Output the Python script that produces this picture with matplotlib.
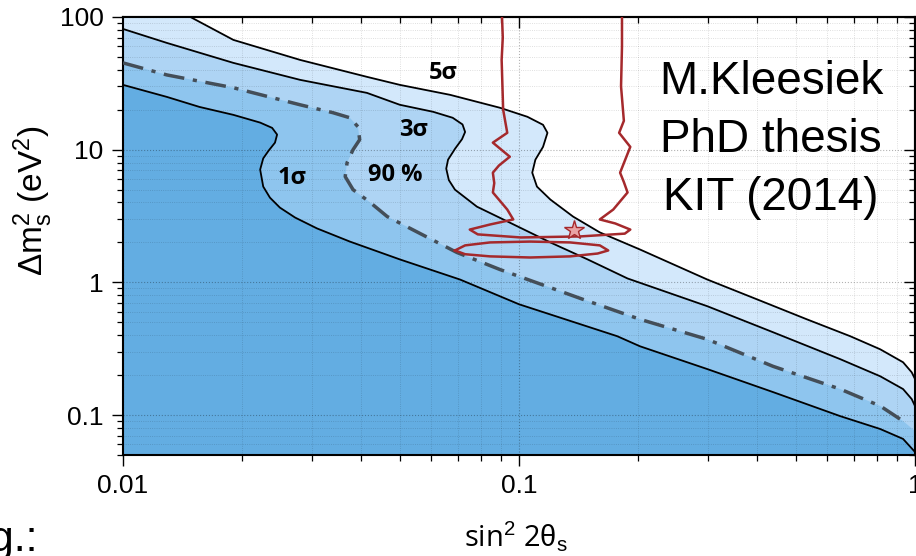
import matplotlib
matplotlib.use('Agg')
from matplotlib import pyplot as plt
from matplotlib.ticker import LogLocator, FormatStrFormatter, NullFormatter

plt.rcParams['mathtext.fontset'] = 'custom'
plt.rcParams['mathtext.rm'] = 'Liberation Sans'
plt.rcParams['mathtext.it'] = 'Liberation Sans:italic'

# contour curves: (sin^2 2theta, dm^2 in eV^2)
sig5_x = [0.0148, 0.0190, 0.0280, 0.0413, 0.0500, 0.0670, 0.0895, 0.105, 0.115, 0.118, 0.115,
          0.110, 0.108, 0.111, 0.120, 0.137, 0.160, 0.202, 0.299, 0.399, 0.533, 0.686, 0.817,
          0.933, 0.981, 1.0]
sig5_y = [100, 67.2, 47.5, 35.4, 30.8, 25.9, 20.7, 17.7, 15.4, 13.4, 10.5,
          8.41, 6.71, 5.27, 4.21, 3.13, 2.38, 1.77, 1.05, 0.745, 0.527, 0.393, 0.313,
          0.250, 0.210, 0.187]

sig3_x = [0.01, 0.0129, 0.0190, 0.0280, 0.0413, 0.0500, 0.0607, 0.0680, 0.0720, 0.0731, 0.0718,
          0.0690, 0.0662, 0.0655, 0.0665, 0.0689, 0.0783, 0.0948, 0.120, 0.149, 0.188, 0.299,
          0.438, 0.647, 0.817, 0.933, 0.981, 1.0]
sig3_y = [81.3, 63.8, 45.1, 33.6, 26.8, 21.8, 19.3, 17.4, 15.5, 13.6, 12.0,
          10.2, 8.41, 7.2, 5.9, 5.00, 3.72, 2.82, 2.00, 1.49, 1.07, 0.661,
          0.421, 0.264, 0.196, 0.157, 0.132, 0.117]

cl90_x = [0.01, 0.0129, 0.0190, 0.0280, 0.0339, 0.0374, 0.0392, 0.0396, 0.0381, 0.0368, 0.0364,
          0.0381, 0.0421, 0.0465, 0.0697, 0.0895, 0.145, 0.202, 0.299, 0.438, 0.647, 0.817,
          0.933, 1.0]
cl90_y = [45.1, 36.6, 29.3, 21.8, 19.0, 17.4, 14.9, 11.9, 10.0, 7.98, 6.27,
          5.00, 4.00, 3.13, 1.68, 1.25, 0.745, 0.527, 0.372, 0.233, 0.157, 0.117,
          0.0901, 0.0758]

sig1_x = [0.01, 0.0129, 0.0156, 0.0190, 0.0222, 0.0238, 0.0245, 0.0242, 0.0233, 0.0226, 0.0222,
          0.0226, 0.0235, 0.0249, 0.0272, 0.0309, 0.0374, 0.0500, 0.0710, 0.100, 0.177, 0.202,
          0.299, 0.438, 0.647, 0.817, 0.933, 1.0]
sig1_y = [30.8, 25.0, 21.0, 18.3, 16.0, 14.6, 13.0, 11.3, 9.8, 8.6, 7.08,
          5.27, 4.35, 3.66, 3.08, 2.55, 2.03, 1.49, 1.05, 0.684, 0.393, 0.330,
          0.222, 0.149, 0.0982, 0.0785, 0.0661, 0.0527]

# red contour of the other experiment
red_x = [0.0906, 0.0910, 0.0904, 0.0912, 0.0934, 0.0859, 0.0948, 0.0890, 0.0859, 0.0866, 0.0859,
         0.0934, 0.0967, 0.0845, 0.0751, 0.0787, 0.101, 0.143, 0.185, 0.191, 0.175, 0.160,
         0.173, 0.188, 0.184, 0.180, 0.191, 0.179, 0.184, 0.181, 0.182, 0.182]
red_y = [100, 70.0, 47.5, 20.0, 13.4, 11.3, 8.85, 7.6, 6.71, 5.6, 4.76,
         3.54, 2.98, 2.73, 2.50, 2.30, 2.18, 2.22, 2.33, 2.50, 2.78, 2.98,
         3.54, 4.76, 5.7, 6.71, 10.5, 13.4, 16.5, 30.0, 60.0, 100]
ell_x = [0.0689, 0.0731, 0.0845, 0.1067, 0.1346, 0.160, 0.168, 0.158, 0.1346, 0.1067, 0.0845, 0.0731, 0.0689]
ell_y = [1.74, 1.90, 2.00, 2.03, 2.00, 1.90, 1.74, 1.65, 1.57, 1.54, 1.57, 1.63, 1.74]
best_x, best_y = 0.138, 2.50

labels   = ['5σ', '3σ', '1σ', '90 %']
labels_x = [0.0643, 0.054, 0.0268, 0.0487]
labels_y = [37.9, 14.1, 6.15, 6.49]

xlim = (0.01, 1.0)
ylim = (0.05, 100)

fig = plt.figure(figsize=(9.16, 5.56), dpi=100)
ax = fig.add_axes([123/916, 1-455/556, 792/916, 438/556])
ax.set_xscale('log')
ax.set_yscale('log')
ax.set_xlim(*xlim)
ax.set_ylim(*ylim)

# filled regions, outermost first
c5, c3, c90, c1 = '#d3e8fb', '#aed4f4', '#8ec5ee', '#63ade2'
for xs, ys, c in [(sig5_x, sig5_y, c5), (sig3_x, sig3_y, c3), (cl90_x, cl90_y, c90), (sig1_x, sig1_y, c1)]:
    px = xs + [xlim[1], xlim[0], xlim[0]]
    py = ys + [ylim[0], ylim[0], ys[0]]
    ax.fill(px, py, color=c, lw=0, zorder=1)

ax.plot(sig5_x, sig5_y, color='k', lw=1.3, zorder=3)
ax.plot(sig3_x, sig3_y, color='k', lw=1.3, zorder=3)
ax.plot(sig1_x, sig1_y, color='k', lw=1.3, zorder=3)
ax.plot(cl90_x[:-1], cl90_y[:-1], color='#444e58', lw=2.5, ls=(0, (6, 2.5, 1.2, 2.5)), zorder=3)

ax.plot(red_x, red_y, color='#a5292c', lw=1.8, zorder=4)
ax.plot(ell_x, ell_y, color='#a5292c', lw=1.8, zorder=4)
ax.plot(best_x, best_y, marker='*', ms=15, mfc='#e9a3a5', mec='#a5292c', mew=1.0, zorder=5)

for t, x, y in zip(labels, labels_x, labels_y):
    ax.text(x, y, t, ha='center', va='center', fontsize=17, fontweight='bold',
            family=['Open Sans', 'DejaVu Sans'], zorder=6)

# grid
ax.grid(which='major', color='k', alpha=0.3, lw=0.8, ls=':')
ax.grid(which='minor', color='k', alpha=0.17, lw=0.6, ls=':')

# ticks
ax.xaxis.set_major_locator(LogLocator(base=10))
ax.xaxis.set_minor_locator(LogLocator(base=10, subs=range(2, 10)))
ax.yaxis.set_major_locator(LogLocator(base=10))
ax.yaxis.set_minor_locator(LogLocator(base=10, subs=range(2, 10)))
ax.xaxis.set_major_formatter(FormatStrFormatter('%g'))
ax.yaxis.set_major_formatter(FormatStrFormatter('%g'))
ax.xaxis.set_minor_formatter(NullFormatter())
ax.yaxis.set_minor_formatter(NullFormatter())
ax.tick_params(which='major', direction='out', length=8, width=1, labelsize=19, pad=6)
ax.tick_params(which='minor', direction='out', length=4.5, width=0.9)
for lab in ax.get_xticklabels() + ax.get_yticklabels():
    lab.set_family('Liberation Sans')

secx = ax.secondary_xaxis('top')
secy = ax.secondary_yaxis('right')
for s in (secx, secy):
    s.tick_params(which='major', direction='in', length=8, width=1)
    s.tick_params(which='minor', direction='in', length=4.5, width=0.9)
secx.xaxis.set_major_formatter(NullFormatter())
secx.xaxis.set_minor_formatter(NullFormatter())
secy.yaxis.set_major_formatter(NullFormatter())
secy.yaxis.set_minor_formatter(NullFormatter())
for sp in list(ax.spines.values()) + [secx.spines['top'], secy.spines['right']]:
    sp.set_linewidth(1.5)

fig.text(33/916, 1-201/556, r'$\Delta\mathrm{m}^2_\mathrm{s}$ (eV$^2$)', rotation=90,
         ha='center', va='center', fontsize=24, family='Liberation Sans')
fig.text(516/916, 10/556, r'sin$^2$ 2$\mathrm{\theta}_\mathrm{s}$', ha='center', va='baseline',
         fontsize=21, family='Open Sans')

fig.text(771/916, 1-140/556, 'M.Kleesiek\nPhD thesis\nKIT (2014)', ha='center', va='center',
         fontsize=33, family='Liberation Sans', linespacing=1.4)
fig.text(38/916, 5/556, 'e.g.:', ha='right', va='baseline', fontsize=31, family='Liberation Sans')

fig.savefig('out.png', dpi=100)
